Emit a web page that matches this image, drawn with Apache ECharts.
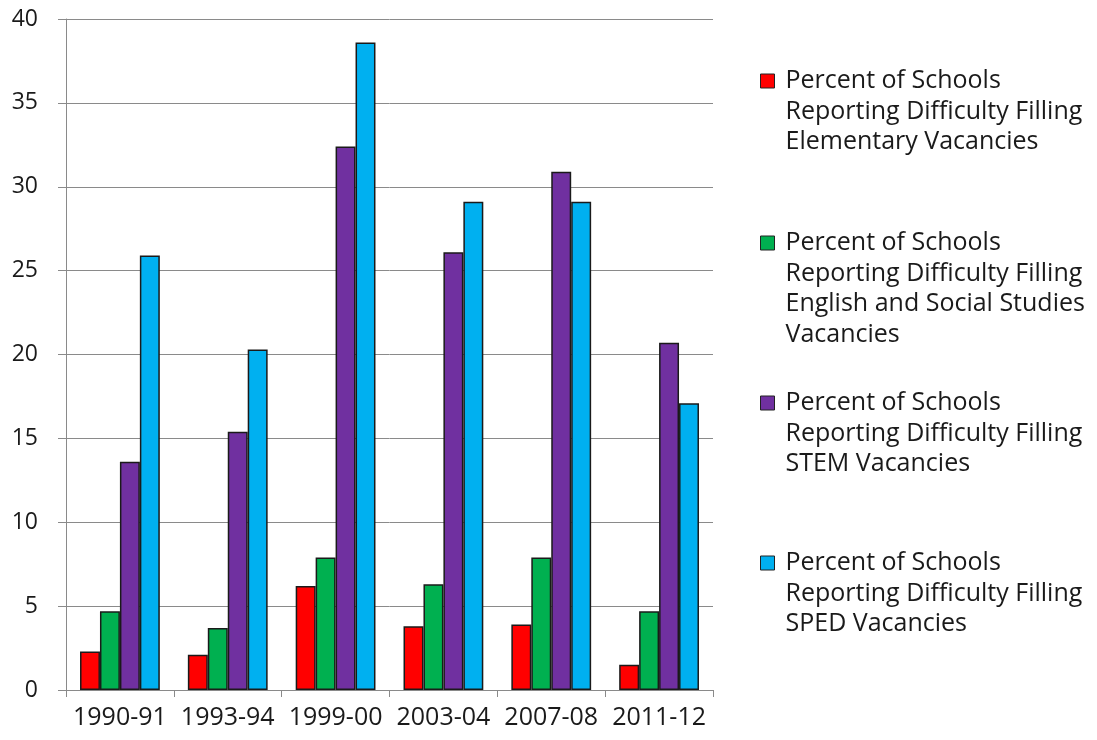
<!DOCTYPE html>
<html>
<head>
<meta charset="utf-8">
<script src="https://cdn.jsdelivr.net/npm/echarts@6/dist/echarts.min.js"></script>
<style>
  html, body { margin: 0; padding: 0; background: #ffffff; }
  #chart { width: 1097px; height: 740px; }
</style>
</head>
<body>
<div id="chart"></div>
<script>
// School years surveyed
const years = ['1990-91', '1993-94', '1999-00', '2003-04', '2007-08', '2011-12'];

// Percent of schools reporting difficulty filling vacancies, by field
const elementary = [2.3, 2.1, 6.2, 3.8, 3.9, 1.5];
const englishSocial = [4.7, 3.7, 7.9, 6.3, 7.9, 4.7];
const stem = [13.6, 15.4, 32.4, 26.1, 30.9, 20.7];
const sped = [25.9, 20.3, 38.6, 29.1, 29.1, 17.1];

const seriesNames = [
  'Percent of Schools\nReporting Difficulty Filling\nElementary Vacancies',
  'Percent of Schools\nReporting Difficulty Filling\nEnglish and Social Studies\nVacancies',
  'Percent of Schools\nReporting Difficulty Filling\nSTEM Vacancies',
  'Percent of Schools\nReporting Difficulty Filling\nSPED Vacancies'
];
const seriesData = [elementary, englishSocial, stem, sped];
const colors = ['#FF0000', '#00B050', '#7030A0', '#00B0F0'];

const FONT = 'Open Sans';
const LINE_H = 30.5;
const LEGEND_PAD = 5;
// vertical centre of each legend swatch / first label line
const legendCenters = [81, 243, 403, 563];

const chart = echarts.init(document.getElementById('chart'), null, { renderer: 'canvas' });

// One legend block per series so each entry sits at its own height.
// Blank lines are prepended so the swatch lines up with the first line of text.
const legends = seriesNames.map((name, i) => {
  const lines = name.split('\n').length;
  const boxH = (2 * lines - 1) * LINE_H;
  return {
    data: [name],
    orient: 'vertical',
    left: 755,
    top: legendCenters[i] - boxH / 2 - LEGEND_PAD,
    padding: LEGEND_PAD,
    itemWidth: 14,
    itemHeight: 14,
    icon: 'rect',
    selectedMode: false,
    formatter: (n) => '\n'.repeat(n.split('\n').length - 1) + n,
    itemStyle: { borderColor: '#222', borderWidth: 1 },
    textStyle: {
      fontFamily: FONT,
      fontSize: 25,
      color: '#1a1a1a',
      lineHeight: LINE_H,
      padding: [0, 0, 0, 6]
    }
  };
});

chart.setOption({
  animation: false,
  backgroundColor: '#ffffff',
  color: colors,
  grid: { left: 66, right: 384, top: 19, bottom: 50, containLabel: false },
  legend: legends,
  xAxis: {
    type: 'category',
    data: years,
    axisLine: { lineStyle: { color: '#8a8a8a', width: 1 } },
    axisTick: { show: true, length: 7, alignWithLabel: false, lineStyle: { color: '#8a8a8a' } },
    axisLabel: {
      fontFamily: FONT, fontSize: 25, color: '#1a1a1a', margin: 15,
      interval: 0, hideOverlap: false
    }
  },
  yAxis: {
    type: 'value',
    min: 0,
    max: 40,
    interval: 5,
    axisLine: { show: true, lineStyle: { color: '#8a8a8a', width: 1 } },
    axisTick: { show: true, length: 8, lineStyle: { color: '#8a8a8a' } },
    axisLabel: { fontFamily: FONT, fontSize: 23, color: '#1a1a1a', margin: 28 },
    splitLine: { show: true, lineStyle: { color: '#8a8a8a', width: 1 } }
  },
  series: seriesData.map((d, i) => ({
    name: seriesNames[i],
    type: 'bar',
    data: d,
    barGap: '0%',
    barCategoryGap: '26%',
    itemStyle: { color: colors[i], borderColor: '#1a1a1a', borderWidth: 1.5 }
  }))
});
</script>
</body>
</html>
